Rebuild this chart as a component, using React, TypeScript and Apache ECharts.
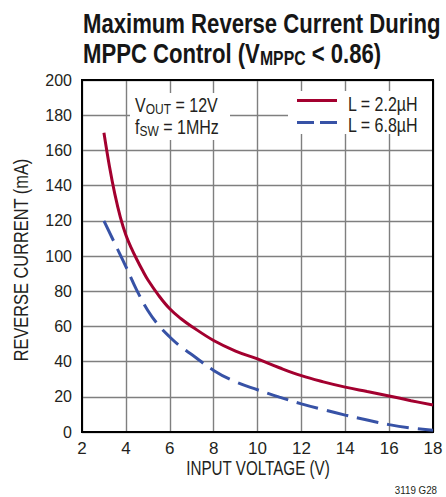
import React, { useEffect, useRef } from "react";
import * as echarts from "echarts";

const xTicks = [2, 4, 6, 8, 10, 12, 14, 16, 18];
const l22uH: [number, number][] = [
  [3, 170], [3.25, 151], [3.5, 135], [3.75, 122], [4, 112], [4.25, 104.5], [4.5, 98],
  [4.75, 92], [5, 86.5], [5.5, 77.5], [6, 70], [6.5, 64.5], [7, 60],
  [8, 52], [9, 46], [10, 41.5], [11, 36.5], [12, 32], [13, 28.5], [14, 25.5],
  [15, 23], [16, 20.5], [17, 17.8], [18, 15.3],
];
const l68uH: [number, number][] = [
  [3, 120], [3.5, 107], [4, 94], [4.5, 80.5], [5, 69], [5.5, 60.5], [6, 54], [6.5, 48.5], [7, 44],
  [8, 35], [9, 28.5], [10, 24], [11, 19.8], [12, 16], [13, 12.7], [14, 9.6],
  [15, 6.8], [16, 4.2], [17, 2.3], [18, 1],
];
const seriesNames = ["L = 2.2µH", "L = 6.8µH"];
const RED = "#a3002f";
const BLUE = "#3752a6";
const FONT = "'Liberation Sans', Arial, sans-serif";
const TXT = "#231f20";

export default function App() {
  const ref = useRef<HTMLDivElement>(null);
  useEffect(() => {
    const chart = echarts.init(ref.current!, null, { renderer: "svg" });
    chart.setOption({
      animation: false,
      backgroundColor: "#fff",
      grid: { left: 82, right: 13, top: 80, bottom: 65, show: true, borderColor: "#000", borderWidth: 2, backgroundColor: "transparent", z: 3 },
      xAxis: {
        type: "value", min: 2, max: 18, interval: 2,
        axisLine: { show: true, lineStyle: { color: "#000", width: 2 } },
        axisTick: { show: false },
        axisLabel: { fontFamily: FONT, fontSize: 17, color: TXT, margin: 8, formatter: (v: number) => (xTicks.includes(v) ? String(v) : "") },
        splitLine: { show: true, lineStyle: { color: "#7f7f7f", width: 1.4 } },
      },
      yAxis: {
        type: "value", min: 0, max: 200, interval: 20,
        axisLine: { show: true, lineStyle: { color: "#000", width: 2 } },
        axisTick: { show: false },
        axisLabel: { fontFamily: FONT, fontSize: 16, color: TXT, margin: 10 },
        splitLine: { show: true, lineStyle: { color: "#7f7f7f", width: 1.4 } },
      },
      series: [
        {
          name: seriesNames[0], type: "line", data: l22uH, smooth: 0.4, showSymbol: false, symbol: "none",
          lineStyle: { color: RED, width: 3 }, z: 4,
        },
        {
          name: seriesNames[1], type: "line", data: l68uH, smooth: 0.4, showSymbol: false, symbol: "none",
          lineStyle: { color: BLUE, width: 3, type: [22, 9] }, z: 4,
        },
      ],
      graphic: [
        {
          type: "text", x: 83, y: 8, scaleX: 0.79, z: 20,
          style: {
            text: "Maximum Reverse Current During\n{a|MPPC Control (V}{s|MPPC}{a| < 0.86)}",
            fontFamily: FONT, fontWeight: "bold", fontSize: 28, lineHeight: 30, fill: "#161616",
            verticalAlign: "top", align: "left",
            rich: {
              a: { fontFamily: FONT, fontWeight: "bold", fontSize: 28, lineHeight: 30, fill: "#161616" },
              s: { fontFamily: FONT, fontWeight: "bold", fontSize: 20, lineHeight: 30, fill: "#161616", padding: [11, 0, 0, 0] },
            },
          },
        },
        // annotation box
        { type: "rect", shape: { x: 130, y: 93, width: 100, height: 47 }, style: { fill: "#fff" }, z: 10 },
        {
          type: "text", x: 135, y: 94, scaleX: 0.8, z: 11,
          style: {
            text: "{a|V}{s|OUT}{a| = 12V}\n{a|f}{s|SW}{a| = 1MHz}",
            fontFamily: FONT, fontSize: 20, fill: TXT, verticalAlign: "top", align: "left",
            rich: {
              a: { fontFamily: FONT, fontSize: 20, lineHeight: 22, fill: TXT },
              s: { fontFamily: FONT, fontSize: 15, lineHeight: 22, fill: TXT, padding: [8, 0, 0, 0] },
            },
          },
        },
        // legend
        { type: "rect", shape: { x: 288, y: 91, width: 144, height: 43 }, style: { fill: "#fff" }, z: 10 },
        { type: "line", shape: { x1: 297, y1: 100.5, x2: 337, y2: 100.5 }, style: { stroke: RED, lineWidth: 3 }, z: 11 },
        { type: "line", shape: { x1: 297, y1: 122.5, x2: 337, y2: 122.5 }, style: { stroke: BLUE, lineWidth: 3, lineDash: [17, 6] }, z: 11 },
        {
          type: "text", x: 348, y: 104, scaleX: 0.8, z: 11,
          style: { text: seriesNames[0], fontFamily: FONT, fontSize: 20, fill: TXT, verticalAlign: "middle", align: "left" },
        },
        {
          type: "text", x: 348, y: 125.5, scaleX: 0.8, z: 11,
          style: { text: seriesNames[1], fontFamily: FONT, fontSize: 20, fill: TXT, verticalAlign: "middle", align: "left" },
        },
        // axis names
        {
          type: "text", x: 258, y: 468, scaleX: 0.78, z: 11,
          style: { text: "INPUT VOLTAGE (V)", fontFamily: FONT, fontSize: 19.5, fill: TXT, verticalAlign: "middle", align: "center" },
        },
        {
          type: "text", x: 21, y: 260, rotation: Math.PI / 2, scaleX: 0.82, z: 11,
          style: { text: "REVERSE CURRENT (mA)", fontFamily: FONT, fontSize: 20, fill: TXT, verticalAlign: "middle", align: "center" },
        },
        {
          type: "text", x: 437, y: 490, scaleX: 0.85, z: 11,
          style: { text: "3119 G28", fontFamily: FONT, fontSize: 11.5, fill: TXT, verticalAlign: "middle", align: "right" },
        },
      ],
    });
    return () => chart.dispose();
  }, []);
  return <div ref={ref} style={{ width: 446, height: 497, position: "absolute", left: 0, top: 0 }} />;
}
